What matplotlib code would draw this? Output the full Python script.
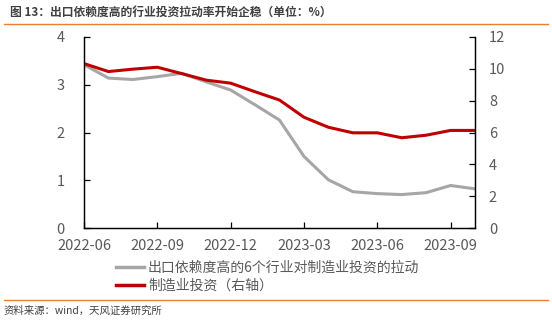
import matplotlib
matplotlib.use("Agg")
import matplotlib.pyplot as plt
from matplotlib.lines import Line2D

plt.rcParams['font.family'] = ['Noto Sans CJK SC', 'DejaVu Sans']

# ── data ─────────────────────────────────────────────────────────────
months = ["2022-06", "2022-07", "2022-08", "2022-09", "2022-10", "2022-11",
          "2022-12", "2023-01", "2023-02", "2023-03", "2023-04", "2023-05",
          "2023-06", "2023-07", "2023-08", "2023-09", "2023-10"]
export_pull = [3.42, 3.14, 3.11, 3.17, 3.24, 3.06, 2.89, 2.58, 2.26, 1.50,
               1.01, 0.76, 0.72, 0.70, 0.74, 0.89, 0.82]
mfg_invest = [10.33, 9.83, 9.98, 10.1, 9.7, 9.29, 9.1, 8.56, 8.04, 6.96,
              6.33, 5.98, 5.98, 5.67, 5.83, 6.13, 6.13]
tick_labels = ["2022-06", "2022-09", "2022-12", "2023-03", "2023-06", "2023-09"]

GRAY = '#A6A6A6'
RED = '#C00000'
TXT = '#595959'

fig = plt.figure(figsize=(5.52, 3.22), dpi=100)
ax = fig.add_axes([84 / 552, 1 - 228 / 322, (475 - 84) / 552, (228 - 37) / 322])
ax2 = ax.twinx()

x = list(range(len(months)))
ax.plot(x, export_pull, color=GRAY, lw=2.2, solid_joinstyle='round')
ax2.plot(x, mfg_invest, color=RED, lw=2.2, solid_joinstyle='round')

ax.set_xlim(0, len(months) - 1)
ax.set_ylim(0, 4)
ax2.set_ylim(0, 12)
ax.set_yticks([0, 1, 2, 3, 4])
ax2.set_yticks([0, 2, 4, 6, 8, 10, 12])
ax.set_xticks([months.index(t) for t in tick_labels])
ax.set_xticklabels(tick_labels)

for a in (ax, ax2):
    a.spines['top'].set_visible(False)
    for s in a.spines.values():
        s.set_linewidth(0.9)
    a.tick_params(direction='in', length=4, width=0.9, colors='black',
                  labelcolor=TXT, labelsize=10.5)
ax.tick_params(axis='y', pad=14)
ax2.tick_params(axis='y', pad=10)
ax.tick_params(axis='x', pad=8)

# legend
handles = [Line2D([], [], color=GRAY, lw=2.5),
           Line2D([], [], color=RED, lw=2.5)]
fig.legend(handles, ["出口依赖度高的6个行业对制造业投资的拉动", "制造业投资（右轴）"],
           loc='upper left', bbox_to_anchor=(116 / 552, 1 - 261 / 322),
           frameon=False, fontsize=10, labelcolor=TXT, handlelength=2.0,
           handletextpad=0.3, labelspacing=0.3, borderpad=0, borderaxespad=0)

# title and footer
fig.text(10 / 552, 1 - 12 / 322, "图 13：出口依赖度高的行业投资拉动率开始企稳（单位：%）",
         fontsize=8.5, fontweight='bold', color='#404040', va='center')
fig.add_artist(Line2D([4 / 552, 548 / 552], [1 - 24 / 322, 1 - 24 / 322],
                      color='#ED7D31', lw=1.0))
fig.add_artist(Line2D([4 / 552, 548 / 552], [1 - 300 / 322, 1 - 300 / 322],
                      color='#ED7D31', lw=1.0))
fig.text(4 / 552, 1 - 311 / 322, "资料来源：wind，天风证券研究所",
         fontsize=7.5, color='#404040', va='center')

fig.savefig("out.png", dpi=100)
